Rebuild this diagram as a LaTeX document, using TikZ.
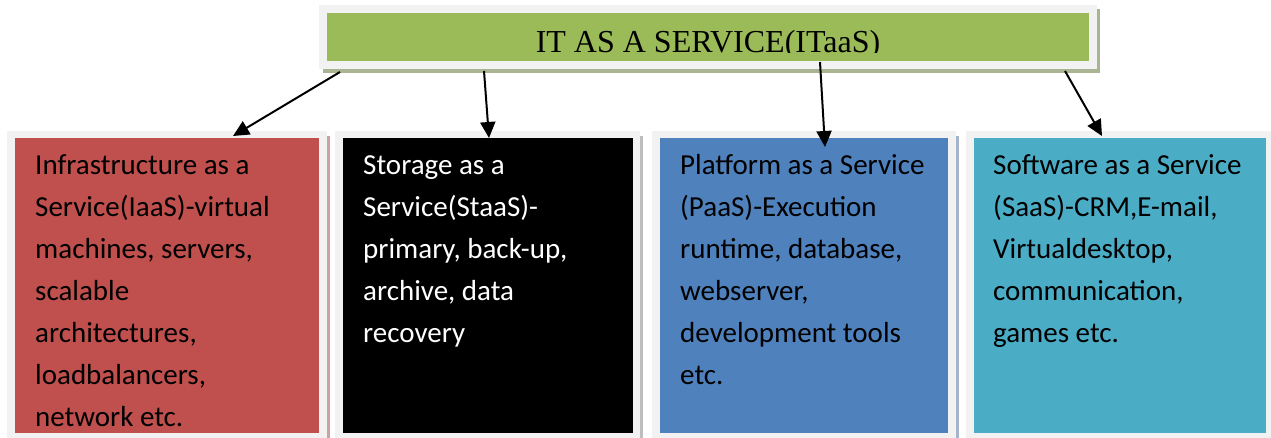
\documentclass[tikz,border=0pt]{standalone}
\usepackage{fontspec}
\setmainfont{Carlito}
\newfontfamily\titlefont{Liberation Serif}
\usetikzlibrary{arrows.meta}

\definecolor{framegray}{HTML}{F2F2F2}
\definecolor{titlegreen}{HTML}{9BBB59}
\definecolor{titleshadow}{HTML}{A9B592}
\definecolor{iaasred}{HTML}{C0504D}
\definecolor{paasblue}{HTML}{4F81BD}
\definecolor{saasteal}{HTML}{4BACC6}
\definecolor{shadowred}{HTML}{C9A3A3}
\definecolor{shadowgray}{HTML}{BDBDBD}
\definecolor{shadowblue}{HTML}{A6B4CB}

\tikzset{
  panel/.style={anchor=north west, inner sep=0pt, outer sep=0pt},
  boxtext/.style={anchor=base west, inner sep=0pt,
    font=\fontsize{29}{42}\selectfont},
  arr/.style={line width=2pt, -{Triangle[length=16pt,width=15pt]}},
}

\newcommand{\boxlines}[1]{\parbox[t]{300pt}{\raggedright #1}}

\begin{document}
\begin{tikzpicture}[x=1pt, y=-1pt]
  \useasboundingbox (0,0) rectangle (1271,438);
  \fill[white] (0,0) rectangle (1271,438);

  % title banner: shadow, frame, green bar
  \fill[titleshadow] (323,9) rectangle (1100,73);
  \fill[framegray] (319,5) rectangle (1097,69);
  \node[panel, fill=titlegreen, minimum width=762pt, minimum height=48pt]
    (title) at (327,13) {};
  \begin{scope}
    \clip (327,13) rectangle (1089,52.5);
    \node[anchor=base, inner sep=0pt, font=\titlefont\fontsize{32}{38}\selectfont]
      (titletext) at (708,53) {IT AS A SERVICE(ITaaS)};
  \end{scope}

  % side shadows of the service boxes
  \fill[shadowred]  (327,136) rectangle (330,438);
  \fill[shadowgray] (640,136) rectangle (643,438);
  \fill[shadowblue] (956,136) rectangle (959,438);

  % light frames
  \fill[framegray] (7,131) rectangle (327,438);
  \fill[framegray] (335,131) rectangle (640,438);
  \fill[framegray] (652,131) rectangle (956,438);
  \fill[framegray] (966,131) rectangle (1271,438);

  % coloured service boxes
  \node[panel, fill=iaasred, minimum width=304pt, minimum height=295pt]
    (iaas) at (15,138) {};
  \node[panel, fill=black, minimum width=290pt, minimum height=295pt]
    (staas) at (343,138) {};
  \node[panel, fill=paasblue, minimum width=288pt, minimum height=295pt]
    (paas) at (660,138) {};
  \node[panel, fill=saasteal, minimum width=292pt, minimum height=295pt]
    (saas) at (974,138) {};

  % box texts
  \node[boxtext] (iaastext) at (35,175) {\boxlines{Infrastructure as a\\
    Service(IaaS)-virtual\\ machines, servers,\\ scalable\\ architectures,\\
    loadbalancers,\\ network etc.}};
  \node[boxtext, text=white] (staastext) at (363,175) {\boxlines{Storage as a\\
    Service(StaaS)-\\ primary, back-up,\\ archive, data\\ recovery}};
  \node[boxtext] (paastext) at (680,175) {\boxlines{Platform as a Service\\
    (PaaS)-Execution\\ runtime, database,\\ webserver,\\ development tools\\ etc.}};
  \node[boxtext] (saastext) at (993,175) {\boxlines{Software as a Service\\
    (SaaS)-CRM,E-mail,\\ Virtualdesktop,\\ communication,\\ games etc.}};

  % arrow ends
  \coordinate (s1) at (340,72);
  \coordinate (e1) at (233,136);
  \coordinate (s2) at (484,71);
  \coordinate (e2) at (489,138);
  \coordinate (s3) at (820,62);
  \coordinate (e3) at (825,147);
  \coordinate (s4) at (1065,71);
  \coordinate (e4) at (1102,136);

  \draw[arr] (s1) -- (e1);
  \draw[arr] (s2) -- (e2);
  \draw[arr] (s3) -- (e3);
  \draw[arr] (s4) -- (e4);
\end{tikzpicture}
\end{document}
